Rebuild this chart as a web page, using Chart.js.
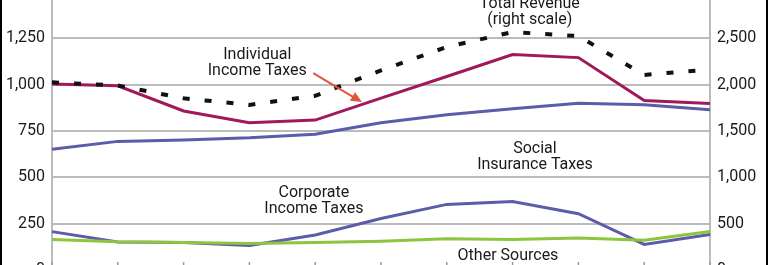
<!DOCTYPE html>
<html>
<head>
<meta charset="utf-8">
<script src="https://cdn.jsdelivr.net/npm/chart.js@4.4.0/dist/chart.umd.min.js"></script>
<style>
  body { margin: 0; background: #fff; overflow: hidden; }
  #frame { position: relative; width: 768px; height: 265px; overflow: hidden; background: #fff; }
  #box { position: absolute; left: 0; top: -28px; width: 768px; height: 318px; }
  .edge { position: absolute; top: 0; width: 2px; height: 265px; background: #000; }
</style>
</head>
<body>
<div id="frame">
  <div id="box"><canvas id="revChart"></canvas></div>
  <div class="edge" style="left:0"></div>
  <div class="edge" style="left:766px"></div>
</div>
<script>
// data, fiscal years 2000-2010, billions of dollars
var years = ['2000','2001','2002','2003','2004','2005','2006','2007','2008','2009','2010'];
var individualTaxes = [1004, 994, 858, 794, 809, 927, 1044, 1163, 1146, 915, 899];
var socialTaxes     = [652, 694, 701, 713, 733, 794, 838, 870, 900, 891, 865];
var corporateTaxes  = [207, 151, 148, 132, 189, 278, 354, 370, 304, 138, 191];
var otherSources    = [165, 152, 148, 143, 149, 155, 168, 165, 172, 161, 208];
var totalRevenue    = [2025, 1991, 1853, 1782, 1880, 2154, 2407, 2568, 2524, 2105, 2163];
var leftTicks = [0, 250, 500, 750, 1000, 1250, 1500];
var rightTicks = [0, 500, 1000, 1500, 2000, 2500, 3000];

// text labels placed in data units (x = year index, y = left scale)
var notes = [
  { lines: ['Total Revenue', '(right scale)'], x: 7.26, y: 1433 },
  { lines: ['Individual', 'Income Taxes'], x: 3.12, y: 1158 },
  { lines: ['Social', 'Insurance Taxes'], x: 7.34, y: 653 },
  { lines: ['Corporate', 'Income Taxes'], x: 3.98, y: 417 },
  { lines: ['Other Sources'], x: 6.93, y: 78 }
];
var arrow = { from: [3.97, 1062], to: [4.71, 906] };

var fontName = 'Roboto, "Noto Sans", sans-serif';

var extras = {
  id: 'extras',
  afterDatasetsDraw: function(chart) {
    var ctx = chart.ctx;
    var xs = chart.scales.x, ys = chart.scales.y;
    var area = chart.chartArea;
    ctx.save();
    // inner tick marks on the bottom axis
    ctx.strokeStyle = '#9a9a9a';
    ctx.lineWidth = 1.5;
    years.forEach(function(y, i) {
      var px = xs.getPixelForValue(i);
      ctx.beginPath();
      ctx.moveTo(px, area.bottom - 8);
      ctx.lineTo(px, area.bottom);
      ctx.stroke();
    });
    // arrow
    var x1 = xs.getPixelForValue(arrow.from[0]), y1 = ys.getPixelForValue(arrow.from[1]);
    var x2 = xs.getPixelForValue(arrow.to[0]), y2 = ys.getPixelForValue(arrow.to[1]);
    var ang = Math.atan2(y2 - y1, x2 - x1);
    ctx.strokeStyle = '#e0553c';
    ctx.fillStyle = '#e0553c';
    ctx.lineWidth = 2;
    ctx.beginPath();
    ctx.moveTo(x1, y1);
    ctx.lineTo(x2 - 6 * Math.cos(ang), y2 - 6 * Math.sin(ang));
    ctx.stroke();
    ctx.beginPath();
    ctx.moveTo(x2, y2);
    ctx.lineTo(x2 - 11 * Math.cos(ang) + 5 * Math.sin(ang), y2 - 11 * Math.sin(ang) - 5 * Math.cos(ang));
    ctx.lineTo(x2 - 11 * Math.cos(ang) - 5 * Math.sin(ang), y2 - 11 * Math.sin(ang) + 5 * Math.cos(ang));
    ctx.closePath();
    ctx.fill();
    // labels
    ctx.fillStyle = '#1a1a1a';
    ctx.font = '16px ' + fontName;
    ctx.textAlign = 'center';
    ctx.textBaseline = 'middle';
    notes.forEach(function(n) {
      var px = xs.getPixelForValue(n.x), py = ys.getPixelForValue(n.y);
      n.lines.forEach(function(t, k) {
        ctx.fillText(t, px, py + k * 16);
      });
    });
    ctx.restore();
  }
};

var ctxRev = document.getElementById('revChart').getContext('2d');
var revChart = new Chart(ctxRev, {
  type: 'line',
  data: {
    labels: years,
    datasets: [
      {
        label: 'Total Revenue',
        data: totalRevenue,
        yAxisID: 'y2',
        borderColor: '#111',
        borderWidth: 4,
        borderDash: [7, 15],
        borderCapStyle: 'butt',
        pointRadius: 0,
        fill: false
      },
      {
        label: 'Other Sources',
        data: otherSources,
        borderColor: '#8cc63f',
        borderWidth: 3,
        pointRadius: 0
      },
      {
        label: 'Corporate Income Taxes',
        data: corporateTaxes,
        borderColor: '#5c5caa',
        borderWidth: 3,
        pointRadius: 0
      },
      {
        label: 'Individual Income Taxes',
        data: individualTaxes,
        borderColor: '#a0195c',
        borderWidth: 3,
        pointRadius: 0
      },
      {
        label: 'Social Insurance Taxes',
        data: socialTaxes,
        borderColor: '#5c5caa',
        borderWidth: 3,
        pointRadius: 0
      }
    ]
  },
  options: {
    responsive: true,
    maintainAspectRatio: false,
    animation: false,
    layout: { padding: { top: 20, bottom: 20, left: 0, right: 0 } },
    plugins: {
      legend: { display: false },
      tooltip: { enabled: false }
    },
    scales: {
      x: {
        display: false,
        offset: false
      },
      y: {
        position: 'left',
        min: 0,
        max: 1500,
        afterBuildTicks: function(s) { s.ticks = leftTicks.map(function(v) { return { value: v }; }); },
        afterFit: function(s) { s.width = 52; },
        ticks: {
          padding: 7,
          color: '#1a1a1a',
          font: { family: fontName, size: 16 },
          callback: function(v) { return v.toLocaleString('en-US'); }
        },
        grid: { color: '#bbbbbb', lineWidth: 2, drawTicks: false },
        border: { display: true, color: '#bbbbbb', width: 2 }
      },
      y2: {
        position: 'right',
        min: 0,
        max: 3000,
        afterBuildTicks: function(s) { s.ticks = rightTicks.map(function(v) { return { value: v }; }); },
        afterFit: function(s) { s.width = 58; },
        ticks: {
          padding: 7,
          color: '#1a1a1a',
          font: { family: fontName, size: 16 },
          callback: function(v) { return v.toLocaleString('en-US'); }
        },
        grid: { drawOnChartArea: false, drawTicks: false },
        border: { display: true, color: '#bbbbbb', width: 2 }
      }
    }
  },
  plugins: [extras]
});
</script>
</body>
</html>
